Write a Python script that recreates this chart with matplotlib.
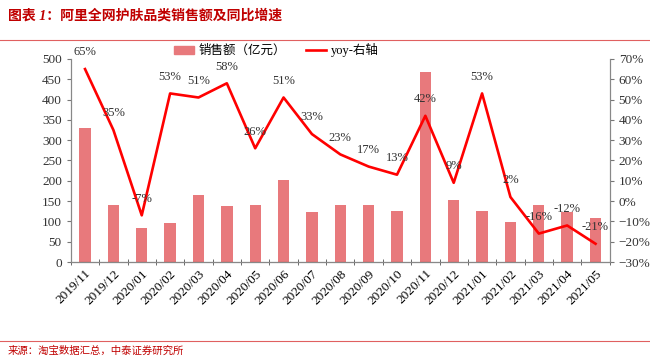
import matplotlib
matplotlib.use("Agg")
import matplotlib.pyplot as plt
from matplotlib.lines import Line2D
from matplotlib.ticker import FuncFormatter, MultipleLocator
import numpy as np

months = ["2019/11", "2019/12", "2020/01", "2020/02", "2020/03", "2020/04", "2020/05",
          "2020/06", "2020/07", "2020/08", "2020/09", "2020/10", "2020/11", "2020/12",
          "2021/01", "2021/02", "2021/03", "2021/04", "2021/05"]
sales = [330, 140, 83, 96, 165, 139, 140, 202, 123, 140, 140, 126, 468, 152,
         126, 98, 140, 122, 108]
yoy = [65, 35, -7, 53, 51, 58, 26, 51, 33, 23, 17, 13, 42, 9, 53, 2, -16, -12, -21]

BAR, LINE, DARKRED = "#E8797C", "#FF0000", "#C00000"
plt.rcParams["font.family"] = ["Liberation Serif", "Noto Sans CJK SC"]

fig = plt.figure(figsize=(6.5, 3.57), dpi=100)
ax = fig.add_axes([0.109, 0.266, 0.829, 0.569])
ax2 = ax.twinx()

x = np.arange(len(months))
ax.bar(x, sales, width=0.4, color=BAR, zorder=2)
ax2.plot(x, yoy, color=LINE, lw=1.9, zorder=3)
for xi, v in zip(x, yoy):
    ax2.annotate(f"{v}%", (xi, v), xytext=(0, 12), textcoords="offset points",
                 ha="center", va="center", fontsize=9, color="#333333")

ax.set_xlim(-0.5, len(months) - 0.5)
ax.set_ylim(0, 500)
ax2.set_ylim(-30, 70)
ax.yaxis.set_major_locator(MultipleLocator(50))
ax2.yaxis.set_major_locator(MultipleLocator(10))
ax2.yaxis.set_major_formatter(FuncFormatter(lambda v, _: f"{v:.0f}%".replace("-", "\u2212")))

ax.set_xticks(x)
ax.set_xticklabels(months, rotation=45, ha="right", rotation_mode="anchor", fontsize=9.5)
ax.set_xticks(np.arange(-0.5, len(months), 1), minor=True)
ax.tick_params(axis="x", which="major", length=0, pad=4)
ax.tick_params(axis="x", which="minor", length=4, direction="inout", color="#555555")
ax.tick_params(axis="y", labelsize=9.5, length=3, color="#777777", labelcolor="#333333")
ax2.tick_params(axis="y", labelsize=9.5, length=3, color="#777777", labelcolor="#333333")

for a in (ax, ax2):
    a.spines["top"].set_visible(False)
    for s in ("left", "right", "bottom"):
        a.spines[s].set_color("#888888")
ax.spines["bottom"].set_color("#333333")

handles = [plt.Rectangle((0, 0), 1, 1, color=BAR),
           Line2D([0], [0], color=LINE, lw=1.9)]
fig.legend(handles, ["销售额（亿元）", "yoy-右轴"], loc="center", ncol=2,
           bbox_to_anchor=(0.425, 0.86), frameon=False, fontsize=9,
           handlelength=1.6, handleheight=0.6, handletextpad=0.4, columnspacing=1.6)

fig.text(0.012, 0.955, "图表 1：阿里全网护肤品类销售额及同比增速", color=DARKRED,
         fontsize=10, fontweight="bold", style="italic", va="center")
fig.add_artist(Line2D([0, 1], [0.888, 0.888], color="#E06060", lw=0.8))
fig.add_artist(Line2D([0, 1], [0.045, 0.045], color="#E06060", lw=0.8))
fig.text(0.012, 0.018, "来源：淘宝数据汇总，中泰证券研究所", color=DARKRED,
         fontsize=7.5, va="center")

fig.savefig("out.png", dpi=100)
